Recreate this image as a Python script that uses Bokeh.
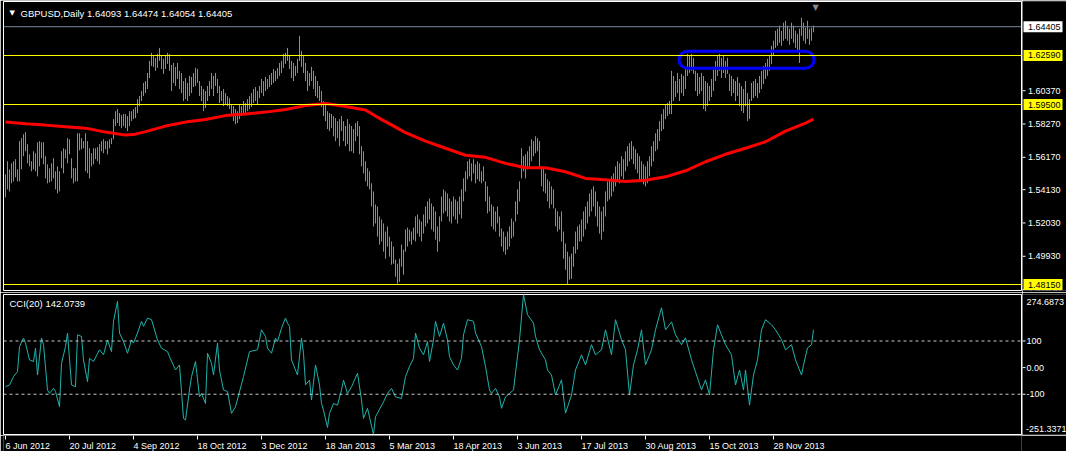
from bokeh.plotting import figure
from bokeh.models import Range1d, Span, Label, ColumnDataSource
from bokeh.layouts import column, row
from bokeh.embed import file_html
from bokeh.resources import INLINE
from bokeh.core.properties import value

FONT = "Liberation Sans"

# ---------------- data ----------------
highs = [
 1.5510, 1.5592, 1.5541, 1.5579, 1.5592, 1.5605, 1.5541, 1.5719, 1.5738, 1.5763,
 1.5776, 1.5700, 1.5636, 1.5592, 1.5655, 1.5643, 1.5712, 1.5719, 1.5712, 1.5712,
 1.5624, 1.5573, 1.5548, 1.5579, 1.5611, 1.5529, 1.5560, 1.5529, 1.5655, 1.5674,
 1.5668, 1.5738, 1.5731, 1.5611, 1.5548, 1.5548, 1.5769, 1.5769, 1.5738, 1.5719,
 1.5769, 1.5719, 1.5674, 1.5643, 1.5674, 1.5674, 1.5681, 1.5700, 1.5719, 1.5731,
 1.5719, 1.5719, 1.5731, 1.5738, 1.5858, 1.5908, 1.5921, 1.5896, 1.5883, 1.5890,
 1.5890, 1.5877, 1.5908, 1.5908, 1.5921, 1.5934, 1.5984, 1.6003, 1.6035, 1.6086,
 1.6098, 1.6149, 1.6225, 1.6276, 1.6257, 1.6244, 1.6269, 1.6307, 1.6257, 1.6238,
 1.6257, 1.6276, 1.6269, 1.6200, 1.6212, 1.6187, 1.6212, 1.6162, 1.6149, 1.6098,
 1.6117, 1.6086, 1.6130, 1.6124, 1.6149, 1.6181, 1.6174, 1.6098, 1.6067, 1.6048,
 1.6035, 1.6067, 1.6098, 1.6149, 1.6130, 1.6149, 1.6111, 1.6067, 1.6035, 1.6048,
 1.6022, 1.6003, 1.5991, 1.5953, 1.5940, 1.5921, 1.5908, 1.5953, 1.5940, 1.5972,
 1.5959, 1.5984, 1.6003, 1.6022, 1.6048, 1.6060, 1.6035, 1.6067, 1.6111, 1.6098,
 1.6124, 1.6111, 1.6136, 1.6149, 1.6174, 1.6162, 1.6181, 1.6212, 1.6225, 1.6269,
 1.6276, 1.6307, 1.6257, 1.6225, 1.6212, 1.6193, 1.6238, 1.6383, 1.6288, 1.6257,
 1.6212, 1.6162, 1.6149, 1.6187, 1.6162, 1.6130, 1.6098, 1.6067, 1.6035, 1.5972,
 1.5953, 1.5908, 1.5896, 1.5890, 1.5877, 1.5864, 1.5845, 1.5858, 1.5877, 1.5845,
 1.5814, 1.5858, 1.5826, 1.5814, 1.5795, 1.5833, 1.5845, 1.5814, 1.5687, 1.5655,
 1.5592, 1.5548, 1.5529, 1.5453, 1.5402, 1.5320, 1.5307, 1.5244, 1.5225, 1.5200,
 1.5149, 1.5181, 1.5117, 1.5086, 1.5054, 1.4972, 1.4946, 1.4978, 1.5067, 1.5035,
 1.5162, 1.5174, 1.5162, 1.5149, 1.5174, 1.5244, 1.5257, 1.5225, 1.5212, 1.5257,
 1.5307, 1.5339, 1.5358, 1.5326, 1.5307, 1.5276, 1.5181, 1.5244, 1.5370, 1.5415,
 1.5402, 1.5389, 1.5358, 1.5339, 1.5370, 1.5351, 1.5339, 1.5370, 1.5415, 1.5484,
 1.5529, 1.5592, 1.5605, 1.5579, 1.5605, 1.5573, 1.5592, 1.5579, 1.5529, 1.5560,
 1.5465, 1.5434, 1.5370, 1.5320, 1.5307, 1.5276, 1.5307, 1.5244, 1.5168, 1.5149,
 1.5117, 1.5149, 1.5181, 1.5231, 1.5212, 1.5339, 1.5415, 1.5465, 1.5674, 1.5624,
 1.5636, 1.5655, 1.5687, 1.5731, 1.5719, 1.5750, 1.5738, 1.5719, 1.5560, 1.5548,
 1.5516, 1.5478, 1.5465, 1.5434, 1.5415, 1.5295, 1.5276, 1.5244, 1.5276, 1.5149,
 1.5073, 1.5022, 1.4991, 1.5010, 1.5054, 1.5149, 1.5181, 1.5193, 1.5225, 1.5276,
 1.5307, 1.5339, 1.5389, 1.5415, 1.5434, 1.5402, 1.5339, 1.5307, 1.5276, 1.5307,
 1.5402, 1.5465, 1.5478, 1.5497, 1.5516, 1.5560, 1.5592, 1.5579, 1.5624, 1.5605,
 1.5655, 1.5687, 1.5706, 1.5719, 1.5687, 1.5668, 1.5643, 1.5624, 1.5592, 1.5573,
 1.5560, 1.5592, 1.5624, 1.5687, 1.5719, 1.5769, 1.5795, 1.5845, 1.5890, 1.5921,
 1.5953, 1.5959, 1.5972, 1.6162, 1.6130, 1.6098, 1.6149, 1.6111, 1.6143, 1.6130,
 1.6174, 1.6269, 1.6257, 1.6269, 1.6244, 1.6162, 1.6149, 1.6124, 1.6149, 1.6130,
 1.6098, 1.6086, 1.6067, 1.6111, 1.6174, 1.6225, 1.6257, 1.6269, 1.6244, 1.6257,
 1.6225, 1.6244, 1.6143, 1.6130, 1.6111, 1.6098, 1.6124, 1.6086, 1.6067, 1.6048,
 1.6098, 1.6022, 1.5984, 1.6086, 1.6098, 1.6111, 1.6086, 1.6130, 1.6162, 1.6193,
 1.6212, 1.6238, 1.6257, 1.6320, 1.6352, 1.6415, 1.6428, 1.6447, 1.6415, 1.6466,
 1.6478, 1.6447, 1.6428, 1.6466, 1.6447, 1.6415, 1.6396, 1.6428, 1.6497, 1.6466,
 1.6434, 1.6478, 1.6428, 1.6434, 1.64474,
]

lows = [
 1.5364, 1.5415, 1.5402, 1.5453, 1.5465, 1.5491, 1.5465, 1.5465, 1.5541, 1.5624,
 1.5655, 1.5579, 1.5560, 1.5529, 1.5541, 1.5529, 1.5497, 1.5560, 1.5611, 1.5573,
 1.5484, 1.5453, 1.5459, 1.5465, 1.5484, 1.5415, 1.5389, 1.5402, 1.5548, 1.5516,
 1.5611, 1.5579, 1.5636, 1.5484, 1.5453, 1.5465, 1.5465, 1.5661, 1.5668, 1.5674,
 1.5529, 1.5516, 1.5484, 1.5560, 1.5573, 1.5605, 1.5592, 1.5573, 1.5655, 1.5643,
 1.5668, 1.5636, 1.5674, 1.5700, 1.5731, 1.5814, 1.5833, 1.5814, 1.5801, 1.5814,
 1.5801, 1.5782, 1.5814, 1.5845, 1.5858, 1.5864, 1.5896, 1.5940, 1.5972, 1.6003,
 1.6022, 1.6048, 1.6117, 1.6193, 1.6187, 1.6162, 1.6181, 1.6225, 1.6174, 1.6143,
 1.6174, 1.6206, 1.6162, 1.6035, 1.6086, 1.6067, 1.6111, 1.6048, 1.6022, 1.5972,
 1.5984, 1.5972, 1.6003, 1.6022, 1.6060, 1.6067, 1.6086, 1.6003, 1.5972, 1.5908,
 1.5928, 1.5972, 1.6003, 1.6048, 1.6003, 1.6067, 1.6022, 1.5959, 1.5972, 1.5940,
 1.5947, 1.5940, 1.5921, 1.5877, 1.5845, 1.5826, 1.5833, 1.5858, 1.5877, 1.5896,
 1.5883, 1.5908, 1.5921, 1.5934, 1.5959, 1.5972, 1.5947, 1.5991, 1.6022, 1.6003,
 1.6035, 1.6048, 1.6060, 1.6073, 1.6086, 1.6098, 1.6111, 1.6130, 1.6149, 1.6181,
 1.6206, 1.6225, 1.6174, 1.6117, 1.6098, 1.6130, 1.6149, 1.6225, 1.6187, 1.6149,
 1.6098, 1.6035, 1.6067, 1.6098, 1.6048, 1.6003, 1.5991, 1.5972, 1.5934, 1.5877,
 1.5845, 1.5795, 1.5782, 1.5801, 1.5750, 1.5719, 1.5738, 1.5687, 1.5782, 1.5719,
 1.5687, 1.5700, 1.5655, 1.5655, 1.5643, 1.5719, 1.5750, 1.5636, 1.5560, 1.5516,
 1.5465, 1.5434, 1.5415, 1.5307, 1.5181, 1.5200, 1.5117, 1.5067, 1.5086, 1.5022,
 1.4978, 1.5054, 1.4991, 1.4940, 1.4946, 1.4864, 1.4820, 1.4832, 1.4927, 1.4877,
 1.5022, 1.5054, 1.5086, 1.5067, 1.5098, 1.5086, 1.5136, 1.5117, 1.5086, 1.5136,
 1.5181, 1.5200, 1.5225, 1.5162, 1.5149, 1.5098, 1.5022, 1.5086, 1.5212, 1.5263,
 1.5276, 1.5244, 1.5212, 1.5200, 1.5244, 1.5225, 1.5200, 1.5257, 1.5231, 1.5339,
 1.5402, 1.5478, 1.5497, 1.5465, 1.5516, 1.5453, 1.5478, 1.5465, 1.5453, 1.5465,
 1.5339, 1.5263, 1.5276, 1.5181, 1.5162, 1.5149, 1.5200, 1.5117, 1.5054, 1.5022,
 1.5003, 1.5035, 1.5054, 1.5105, 1.5117, 1.5212, 1.5257, 1.5339, 1.5484, 1.5529,
 1.5484, 1.5541, 1.5560, 1.5592, 1.5624, 1.5643, 1.5655, 1.5560, 1.5434, 1.5402,
 1.5389, 1.5339, 1.5295, 1.5320, 1.5295, 1.5181, 1.5149, 1.5162, 1.5086, 1.4978,
 1.4908, 1.4814, 1.4845, 1.4851, 1.4927, 1.5010, 1.5035, 1.5086, 1.5086, 1.5117,
 1.5162, 1.5200, 1.5244, 1.5276, 1.5307, 1.5244, 1.5181, 1.5136, 1.5098, 1.5149,
 1.5244, 1.5339, 1.5351, 1.5370, 1.5402, 1.5434, 1.5465, 1.5453, 1.5497, 1.5478,
 1.5529, 1.5560, 1.5592, 1.5605, 1.5573, 1.5541, 1.5516, 1.5478, 1.5465, 1.5446,
 1.5434, 1.5453, 1.5497, 1.5560, 1.5592, 1.5655, 1.5668, 1.5719, 1.5782, 1.5795,
 1.5858, 1.5877, 1.5890, 1.5890, 1.5972, 1.5997, 1.6022, 1.5972, 1.6022, 1.6003,
 1.6048, 1.6130, 1.6149, 1.6162, 1.6143, 1.6035, 1.6003, 1.6016, 1.6035, 1.5921,
 1.5908, 1.5940, 1.5972, 1.5997, 1.6035, 1.6098, 1.6130, 1.6162, 1.6117, 1.6149,
 1.6117, 1.6143, 1.6035, 1.6003, 1.6022, 1.5972, 1.6003, 1.5940, 1.5908, 1.5896,
 1.5940, 1.5845, 1.5858, 1.5972, 1.5991, 1.6003, 1.5991, 1.6022, 1.6048, 1.6079,
 1.6111, 1.6130, 1.6162, 1.6206, 1.6257, 1.6307, 1.6320, 1.6339, 1.6320, 1.6352,
 1.6364, 1.6352, 1.6326, 1.6364, 1.6339, 1.6307, 1.6288, 1.6212, 1.6383, 1.6352,
 1.6333, 1.6364, 1.6326, 1.6352, 1.64054,
]

ma_idx = [0, 10, 20, 30, 40, 50, 60, 65, 70, 80, 90, 100, 110, 120, 130, 140, 150,
          160, 170, 180, 185, 190, 195, 200, 210, 220, 230, 240, 250, 260, 270, 280,
          290, 300, 310, 320, 330, 340, 350, 360, 370, 380, 390, 400, 404]
ma_val = [1.5839, 1.5829, 1.5820, 1.5810, 1.5801, 1.5776, 1.5757, 1.5763, 1.5779,
          1.5814, 1.5839, 1.5855, 1.5880, 1.5890, 1.5902, 1.5918, 1.5943, 1.5956,
          1.5937, 1.5915, 1.5877, 1.5842, 1.5807, 1.5772, 1.5719, 1.5674, 1.5630,
          1.5617, 1.5579, 1.5551, 1.5551, 1.5526, 1.5484, 1.5475, 1.5465, 1.5472,
          1.5494, 1.5532, 1.5589, 1.5636, 1.5674, 1.5715, 1.5782, 1.5833, 1.5858]

cci_idx = [0, 2, 4, 6, 7, 9, 10, 12, 14, 15, 16, 18, 19, 21, 22, 24, 25, 27, 28, 30,
           31, 33, 35, 36, 38, 39, 41, 42, 44, 47, 49, 51, 53, 54, 56, 57, 59, 61, 63, 64,
           66, 68, 69, 71, 73, 76, 78, 81, 82, 85, 87, 89, 90, 92, 93, 95, 97, 98, 100, 101,
           103, 104, 106, 107, 109, 111, 113, 115, 119, 122, 126, 127, 128, 130, 131, 133, 135, 136, 138, 140,
           141, 142, 143, 145, 146, 148, 149, 150, 152, 153, 155, 157, 158, 159, 161, 162, 164, 166, 168, 169,
           171, 173, 176, 178, 179, 181, 184, 185, 189, 191, 193, 195, 198, 200, 202, 204, 205, 207, 209, 211,
           212, 214, 215, 217, 219, 221, 222, 224, 226, 228, 229, 231, 234, 235, 238, 240, 242, 243, 245, 247,
           248, 250, 252, 254, 255, 257, 259, 261, 264, 265, 267, 270, 271, 273, 275, 278, 280, 283, 285, 288,
           290, 293, 295, 298, 300, 303, 305, 308, 310, 312, 314, 316, 318, 320, 323, 325, 328, 330, 333, 335,
           338, 340, 343, 345, 348, 350, 352, 354, 356, 358, 360, 363, 365, 367, 369, 370, 372, 374, 376, 378,
           380, 383, 385, 388, 390, 393, 395, 398, 399, 401, 403, 404]
cci_val = [-72, -65, -34, -15, 79, 111, 92, 29, 23, 73, -28, 111, 86, -84, -97, -78, -90, -147, 16, 79,
           130, -65, -72, 123, 117, 29, -53, 35, 23, 67, 48, 104, 60, 174, 249, 130, 98, 54, 104, 92,
           130, 174, 155, 186, 180, 104, 73, 60, 41, -9, 10, -191, -197, -84, -34, 23, -110, -97, -135, 54,
           16, -28, 92, -9, -84, -90, -172, -147, -34, 60, 67, 104, 142, 117, 73, 54, 111, 98, 148, 186,
           167, 155, 29, -9, -28, 111, 54, -65, -47, -122, 10, -65, -135, -160, -225, -172, -135, -141, -84, -47,
           -97, -72, -21, -122, -191, -153, -251.3, -185, -129, -97, -78, -110, -116, -34, 4, 35, 130, 73, 48, 98,
           23, 104, 174, 117, 167, 104, 41, 10, -9, 35, 123, 180, 174, 130, 79, 4, -84, -97, -78, -110,
           -153, -110, -97, -84, -21, 104, 274.6, 199, 167, 117, 67, 29, -9, -28, -103, -46, -171, -103, -9, 48,
           10, 86, 48, 67, 142, 48, 180, 105, 67, -103, 10, 67, 142, 10, 67, 142, 225, 142, 172, 123,
           86, 112, 29, -16, -84, -46, -103, 67, 161, 123, 86, 48, -65, -9, -84, -9, -141, -28, 29, 142,
           180, 161, 142, 105, 67, 86, 29, -28, 10, 74, 86, 142.07]

price_ticks = [1.6037, 1.5827, 1.5617, 1.5413, 1.5203, 1.4993, 1.4783]
level_lines = [1.62590, 1.59500, 1.48150]
last_price = 1.64405
cci_ticks = [100, 0, -100]
cci_tick_labels = ["100", "0.00", "-100"]
cci_levels = [100, -100]
cci_min, cci_max = -251.3371, 274.6873

date_idx = [0, 32, 64, 96, 128, 160, 192, 224, 256, 288, 320, 352, 384]
date_labels = ["6 Jun 2012", "20 Jul 2012", "4 Sep 2012", "18 Oct 2012", "3 Dec 2012",
               "18 Jan 2013", "5 Mar 2013", "18 Apr 2013", "3 Jun 2013", "17 Jul 2013",
               "30 Aug 2013", "15 Oct 2013", "28 Nov 2013"]

title_text = "GBPUSD,Daily  1.64093 1.64474 1.64054 1.64405"
cci_text = "CCI(20) 142.0739"

# hand-drawn rounded box on the chart (centre bar, centre price, width in bars, height in price)
box_x, box_y, box_w, box_h = 370.5, 1.6232, 67.5, 0.0107

# ---------------- figures ----------------
BAR_COLOR = "#32cd32"
xr = Range1d(-1.0, -1.0 + 1018 / 2)

def chart_fig(**kw):
    f = figure(output_backend="svg", toolbar_location=None,
               background_fill_color="black", border_fill_color="black",
               x_axis_location=None, y_axis_location=None, **kw)
    f.grid.visible = False
    return f

# ---- main price panel ----
p1 = chart_fig(width=1022, height=292, x_range=xr, y_range=Range1d(1.477719, 1.659950),
               min_border_left=3, min_border_right=1, min_border_top=1, min_border_bottom=2,
               outline_line_color="white", outline_line_width=1)

src = ColumnDataSource(dict(i=list(range(len(highs))), high=highs, low=lows))
p1.segment(x0="i", y0="low", x1="i", y1="high", source=src, line_color=BAR_COLOR, line_width=1)
p1.line(ma_idx, ma_val, line_color="#ff0000", line_width=3)

p1.add_layout(Span(location=last_price, dimension="width", line_color="#778899", line_width=1))
for lv in level_lines:
    p1.add_layout(Span(location=lv, dimension="width", line_color="#ffff00", line_width=1))

p1.rect(x=[box_x], y=[box_y], width=[box_w], height=[box_h], fill_color=None,
        line_color="#0000ff", line_width=3, border_radius=9)

p1.add_layout(Label(x=6, y=277.5, x_units="screen", y_units="screen", text="\u25bc",
                    text_color="white", text_font="DejaVu Sans", text_font_size="7px",
                    text_baseline="middle"))
p1.add_layout(Label(x=17, y=277.5, x_units="screen", y_units="screen", text=title_text,
                    text_color="white", text_font=FONT, text_font_size="9.5px",
                    text_baseline="middle"))
p1.add_layout(Label(x=809, y=283, x_units="screen", y_units="screen", text="\u25bc",
                    text_color="#8c8c8c", text_font="DejaVu Sans", text_font_size="8px",
                    text_baseline="middle"))

# ---- price scale strip (right) ----
a1 = chart_fig(width=44, height=292, x_range=Range1d(0, 44), y_range=p1.y_range,
               min_border_left=0, min_border_right=0, min_border_top=1, min_border_bottom=2,
               outline_line_color=None)
tsrc = ColumnDataSource(dict(p=price_ticks, t=[f"{v:.5f}" for v in price_ticks]))
a1.segment(x0=0, y0="p", x1=3, y1="p", source=tsrc, line_color="white", line_width=1)
a1.text(x=5.5, y="p", text="t", source=tsrc, text_color="white", text_font=value(FONT),
        text_font_size=value("9px"), text_align="left", text_baseline="middle")

box_levels = [last_price] + level_lines
bsrc = ColumnDataSource(dict(p=box_levels, t=[f"{v:.5f}" for v in box_levels],
                             c=["white"] + ["#ffff00"] * len(level_lines)))
a1.rect(x=20.5, y="p", width=39, height=11, height_units="screen", source=bsrc,
        fill_color="c", line_color=None)
a1.text(x=5.5, y="p", text="t", source=bsrc, text_color="black", text_font=value(FONT),
        text_font_size=value("9px"), text_align="left", text_baseline="middle")

# ---- CCI panel ----
p2 = chart_fig(width=1022, height=143, x_range=xr, y_range=Range1d(cci_min, cci_max),
               min_border_left=3, min_border_right=1, min_border_top=2, min_border_bottom=1,
               outline_line_color="white", outline_line_width=1)
for lv in cci_levels:
    p2.add_layout(Span(location=lv, dimension="width", line_color="#c8c8c8",
                       line_width=1, line_dash="3 3"))
p2.line(cci_idx, cci_val, line_color="#20b2aa", line_width=1)
p2.add_layout(Label(x=6, y=131.5, x_units="screen", y_units="screen", text=cci_text,
                    text_color="white", text_font=FONT, text_font_size="9.5px",
                    text_baseline="middle"))

a2 = chart_fig(width=44, height=143, x_range=Range1d(0, 44), y_range=p2.y_range,
               min_border_left=0, min_border_right=0, min_border_top=2, min_border_bottom=1,
               outline_line_color=None)
csrc = ColumnDataSource(dict(p=cci_ticks, t=cci_tick_labels))
a2.segment(x0=0, y0="p", x1=3, y1="p", source=csrc, line_color="white", line_width=1)
a2.text(x=4, y="p", text="t", source=csrc, text_color="white", text_font=value(FONT),
        text_font_size=value("9px"), text_align="left", text_baseline="middle")
a2.add_layout(Label(x=4, y=133, x_units="data", y_units="screen", text=f"{cci_max:.4f}",
                    text_color="white", text_font=FONT, text_font_size="9px",
                    text_baseline="middle"))
a2.add_layout(Label(x=3.5, y=6, x_units="data", y_units="screen", text=f"{cci_min:.4f}",
                    text_color="white", text_font=FONT, text_font_size="9px",
                    text_baseline="middle"))

# ---- date strip ----
p3 = chart_fig(width=1066, height=16, x_range=xr, y_range=Range1d(0, 16),
               min_border_left=3, min_border_right=45, min_border_top=0, min_border_bottom=0,
               outline_line_color=None)
dsrc = ColumnDataSource(dict(x=date_idx, text=date_labels))
p3.segment(x0="x", y0=16, x1="x", y1=12, source=dsrc, line_color="white", line_width=1)
p3.text(x="x", y=6, text="text", source=dsrc, text_color="white",
        text_font=value(FONT), text_font_size=value("9px"),
        text_align="left", text_baseline="middle")

layout = column(row(p1, a1, spacing=0), row(p2, a2, spacing=0), p3, spacing=0)
open("out.html", "w").write(file_html(layout, INLINE))
